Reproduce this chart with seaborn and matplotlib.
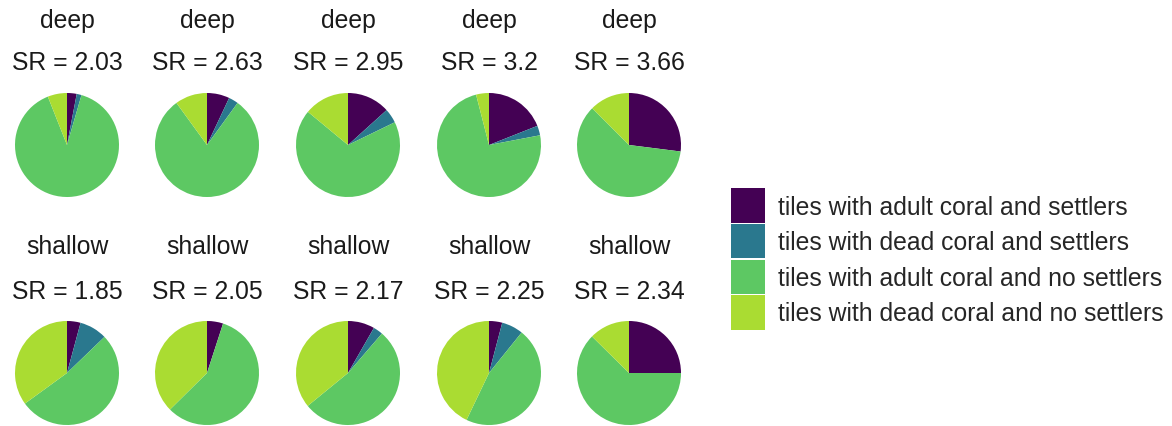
import matplotlib
matplotlib.use("Agg")
import matplotlib.pyplot as plt
import matplotlib.patches as mpatches
import seaborn as sns

# ── Data ──────────────────────────────────────────────────────────────────────
categories = [
    "tiles with adult coral and settlers",
    "tiles with dead coral and settlers",
    "tiles with adult coral and no settlers",
    "tiles with dead coral and no settlers",
]
depth_rows = ["deep", "shallow"]
sr_deep    = [2.03, 2.63, 2.95, 3.2, 3.66]
sr_shallow = [1.85, 2.05, 2.17, 2.25, 2.34]

# proportions per pie, order = categories (clockwise from 12 o'clock)
adult_settlers_deep    = [0.03, 0.07, 0.133, 0.19, 0.27]
dead_settlers_deep     = [0.015, 0.03, 0.045, 0.03, 0.0]
adult_nosettlers_deep  = [0.895, 0.80, 0.682, 0.74, 0.605]
dead_nosettlers_deep   = [0.06, 0.10, 0.14, 0.04, 0.125]

adult_settlers_shallow   = [0.042, 0.05, 0.083, 0.041, 0.25]
dead_settlers_shallow    = [0.086, 0.0, 0.03, 0.067, 0.0]
adult_nosettlers_shallow = [0.522, 0.576, 0.528, 0.463, 0.624]
dead_nosettlers_shallow  = [0.35, 0.374, 0.359, 0.429, 0.126]

COLORS = ["#440154", "#2A788E", "#5DC863", "#AADC32"]

sns.set_style("white")
plt.rcParams["font.family"] = ["Liberation Sans", "DejaVu Sans"]

W, H = 1172, 427
fig = plt.figure(figsize=(W / 100, H / 100), dpi=100)

col_x   = [67, 207, 348, 489, 629]
row_y   = [146, 374]
title_y = [21, 247]
sr_y    = [63, 292]
radius  = 52
FS = 17.8

rows = [
    (sr_deep, adult_settlers_deep, dead_settlers_deep,
     adult_nosettlers_deep, dead_nosettlers_deep),
    (sr_shallow, adult_settlers_shallow, dead_settlers_shallow,
     adult_nosettlers_shallow, dead_nosettlers_shallow),
]

for r, (srs, a, b, c, d) in enumerate(rows):
    for i in range(5):
        cx, cy = col_x[i], row_y[r]
        ax = fig.add_axes([(cx - radius) / W, 1 - (cy + radius) / H,
                           2 * radius / W, 2 * radius / H])
        vals = [a[i], b[i], c[i], d[i]]
        ax.pie(vals, colors=COLORS, startangle=90, counterclock=False,
               wedgeprops={"linewidth": 0})
        ax.set_xlim(-1, 1); ax.set_ylim(-1, 1)
        ax.set_aspect("equal")
        ax.axis("off")
        fig.text(cx / W, 1 - title_y[r] / H, depth_rows[r],
                 ha="center", va="center", fontsize=FS, color="#1a1a1a")
        fig.text(cx / W, 1 - sr_y[r] / H, f"SR = {srs[i]}",
                 ha="center", va="center", fontsize=FS, color="#1a1a1a")

# legend: 34px squares, ~37px pitch
handles = [mpatches.Patch(facecolor=col, edgecolor="none", label=lab)
           for col, lab in zip(COLORS, categories)]
fig.legend(handles=handles, loc="center left",
           bbox_to_anchor=(731 / W, 1 - 260 / H), frameon=False,
           fontsize=FS, handlelength=1.38, handleheight=1.76,
           labelspacing=0.05, handletextpad=0.52, borderaxespad=0,
           borderpad=0)

fig.savefig("out.png", dpi=100)
